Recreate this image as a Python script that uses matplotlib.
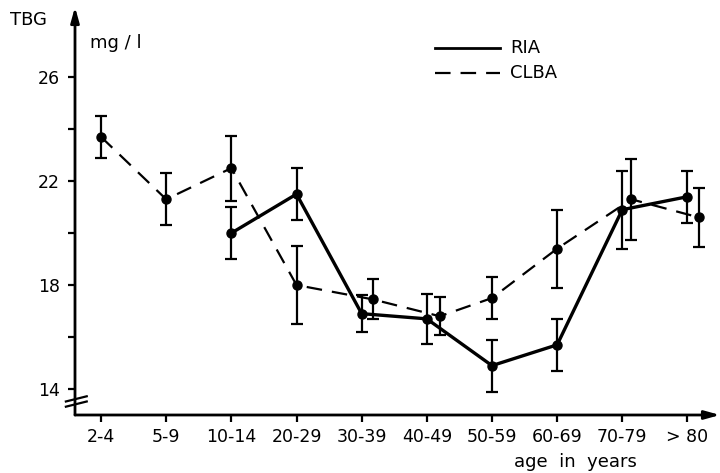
import matplotlib
matplotlib.use("Agg")
import matplotlib.pyplot as plt
from matplotlib.lines import Line2D

# Age groups and TBG serum concentrations (mg/l), mean and error
age_groups = ["2-4", "5-9", "10-14", "20-29", "30-39", "40-49",
              "50-59", "60-69", "70-79", "> 80"]

# RIA: no values for the two youngest groups
ria_groups = ["10-14", "20-29", "30-39", "40-49", "50-59", "60-69", "70-79", "> 80"]
ria_mean = [20.0, 21.5, 16.9, 16.7, 14.9, 15.7, 20.9, 21.4]
ria_err = [1.0, 1.0, 0.7, 0.95, 1.0, 1.0, 1.5, 1.0]

clba_groups = age_groups
clba_mean = [23.7, 21.3, 22.5, 18.0, 17.45, 16.8, 17.5, 19.4, 21.3, 20.6]
clba_err = [0.8, 1.0, 1.25, 1.5, 0.77, 0.73, 0.8, 1.5, 1.55, 1.13]

y_ticks = [14, 16, 18, 20, 22, 24, 26]
y_labels = ["14", "", "18", "", "22", "", "26"]

# small horizontal shift of CLBA points so overlapping error bars stay visible
clba_shift = [0, 0, 0, 0, 0.17, 0.2, 0, 0, 0.14, 0.18]

plt.rcParams["font.family"] = ["DejaVu Sans"]
W, H = 720, 473
fig = plt.figure(figsize=(W / 100, H / 100), dpi=100)
ax = fig.add_axes([75 / W, 58 / H, (W - 75) / W, (415 - 7) / H])
ax.set_xlim(-0.4, 9.5)
ax.set_ylim(13, 28.7)

idx = {g: i for i, g in enumerate(age_groups)}
rx = [idx[g] for g in ria_groups]
cx = [idx[g] + s for g, s in zip(clba_groups, clba_shift)]

ax.errorbar(cx, clba_mean, yerr=clba_err, fmt="o", color="black", ms=6.5,
            lw=0, elinewidth=1.6, capsize=4.2, capthick=1.6, zorder=3)
ax.plot(cx, clba_mean, color="black", lw=1.6, dashes=(7, 4.5), zorder=2)

ax.errorbar(rx, ria_mean, yerr=ria_err, fmt="o", color="black", ms=6.5,
            lw=0, elinewidth=1.6, capsize=4.2, capthick=1.6, zorder=3)
ax.plot(rx, ria_mean, color="black", lw=2.4, solid_capstyle="round", zorder=2)

# axes drawn as arrows
for s in ax.spines.values():
    s.set_visible(False)
ax.annotate("", xy=(1.0, 0), xytext=(0, 0), xycoords="axes fraction",
            arrowprops=dict(arrowstyle="-|>,head_length=0.9,head_width=0.25",
                            color="black", lw=2, shrinkA=0, shrinkB=0))
ax.annotate("", xy=(0, 1.0), xytext=(0, 0), xycoords="axes fraction",
            arrowprops=dict(arrowstyle="-|>,head_length=0.9,head_width=0.25",
                            color="black", lw=2, shrinkA=0, shrinkB=0))

# axis break marks on the value axis
for yb in (13.42, 13.62):
    ax.plot([-0.54, -0.22], [yb - 0.1, yb + 0.1], color="black", lw=1.6,
            clip_on=False, zorder=4)

ax.set_xticks(range(len(age_groups)))
ax.set_xticklabels(age_groups)
ax.set_yticks(y_ticks)
ax.set_yticklabels(y_labels)
ax.tick_params(axis="both", direction="out", length=5, width=1.6,
               labelsize=12.5, color="black")
ax.tick_params(axis="x", pad=4)
ax.tick_params(axis="y", pad=6)

fig.text(10 / W, 1 - 20 / H, "TBG", fontsize=13, va="center", ha="left")
fig.text(90 / W, 1 - 43 / H, "mg / l", fontsize=13, va="center", ha="left")
fig.text(575 / W, 1 - 462 / H, "age  in  years", fontsize=13,
         va="center", ha="center")

# legend
fig.add_artist(Line2D([435 / W, 500 / W], [1 - 48 / H] * 2, color="black", lw=2))
fig.add_artist(Line2D([435 / W, 500 / W], [1 - 73 / H] * 2, color="black",
                      lw=1.6, dashes=(7, 4.5)))
fig.text(510 / W, 1 - 48 / H, "RIA", fontsize=13, va="center", ha="left")
fig.text(510 / W, 1 - 73 / H, "CLBA", fontsize=13, va="center", ha="left")

fig.savefig("out.png", dpi=100)
